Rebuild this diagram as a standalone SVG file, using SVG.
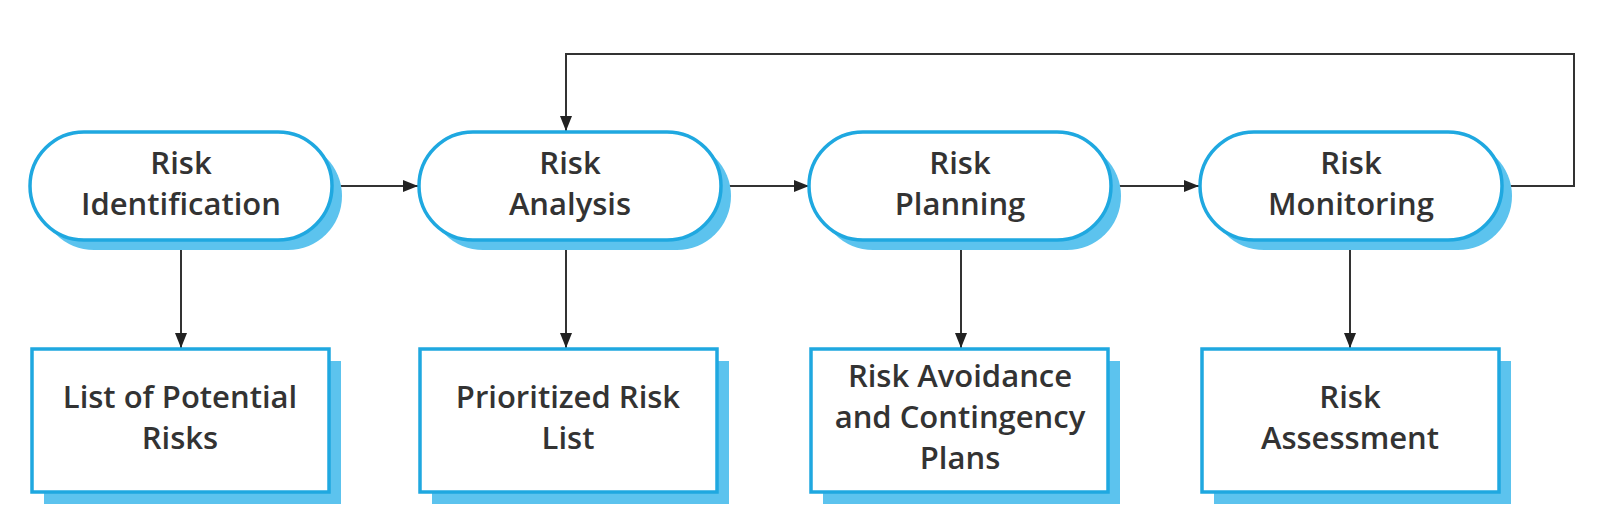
<svg xmlns="http://www.w3.org/2000/svg" width="1620" height="514" viewBox="0 0 1620 514">
<defs>
<style>
.shadow{fill:#5cc3ee;stroke:none}
.shape{fill:#fff;stroke:#1fa8e0;stroke-width:3.5}
.t{font-family:"Open Sans","Liberation Sans",sans-serif;font-size:31px;font-weight:600;fill:#333;text-anchor:middle}
.c{fill:none;stroke:#333;stroke-width:2}
</style>
<marker id="ah" viewBox="0 0 10 10" refX="10" refY="5" markerWidth="15" markerHeight="15" markerUnits="userSpaceOnUse" orient="auto">
<path d="M0,1 L10,5 L0,9 Z" fill="#222"/>
</marker>
</defs>
<rect width="1620" height="514" fill="#fff"/>
<g id="connectors">
<path class="c" d="M332,186 H418" marker-end="url(#ah)"/>
<path class="c" d="M721,186 H809" marker-end="url(#ah)"/>
<path class="c" d="M1111,186 H1199" marker-end="url(#ah)"/>
<path class="c" d="M1502,186 H1574 V54 H566 V131" marker-end="url(#ah)"/>
<path class="c" d="M181,241 V348" marker-end="url(#ah)"/>
<path class="c" d="M566,241 V348" marker-end="url(#ah)"/>
<path class="c" d="M961,241 V348" marker-end="url(#ah)"/>
<path class="c" d="M1350,241 V348" marker-end="url(#ah)"/>
</g>
<g id="n1">
<rect class="shadow" x="40" y="142" width="302" height="108" rx="54"/>
<rect class="shape" x="30" y="132" width="302" height="108" rx="54"/>
<text class="t" x="181" y="174">Risk</text>
<text class="t" x="181" y="215">Identification</text>
</g>
<g id="n2">
<rect class="shadow" x="429" y="142" width="302" height="108" rx="54"/>
<rect class="shape" x="419" y="132" width="302" height="108" rx="54"/>
<text class="t" x="570" y="174">Risk</text>
<text class="t" x="570" y="215">Analysis</text>
</g>
<g id="n3">
<rect class="shadow" x="819" y="142" width="302" height="108" rx="54"/>
<rect class="shape" x="809" y="132" width="302" height="108" rx="54"/>
<text class="t" x="960" y="174">Risk</text>
<text class="t" x="960" y="215">Planning</text>
</g>
<g id="n4">
<rect class="shadow" x="1210" y="142" width="302" height="108" rx="54"/>
<rect class="shape" x="1200" y="132" width="302" height="108" rx="54"/>
<text class="t" x="1351" y="174">Risk</text>
<text class="t" x="1351" y="215">Monitoring</text>
</g>
<g id="b1">
<rect class="shadow" x="44" y="361" width="297" height="143"/>
<rect class="shape" x="32" y="349" width="297" height="143"/>
<text class="t" x="180" y="408">List of Potential</text>
<text class="t" x="180" y="449">Risks</text>
</g>
<g id="b2">
<rect class="shadow" x="432" y="361" width="297" height="143"/>
<rect class="shape" x="420" y="349" width="297" height="143"/>
<text class="t" x="568" y="408">Prioritized Risk</text>
<text class="t" x="568" y="449">List</text>
</g>
<g id="b3">
<rect class="shadow" x="823" y="361" width="297" height="143"/>
<rect class="shape" x="811" y="349" width="297" height="143"/>
<text class="t" x="960" y="387">Risk Avoidance</text>
<text class="t" x="960" y="428">and Contingency</text>
<text class="t" x="960" y="469">Plans</text>
</g>
<g id="b4">
<rect class="shadow" x="1214" y="361" width="297" height="143"/>
<rect class="shape" x="1202" y="349" width="297" height="143"/>
<text class="t" x="1350" y="408">Risk</text>
<text class="t" x="1350" y="449">Assessment</text>
</g>
</svg>
